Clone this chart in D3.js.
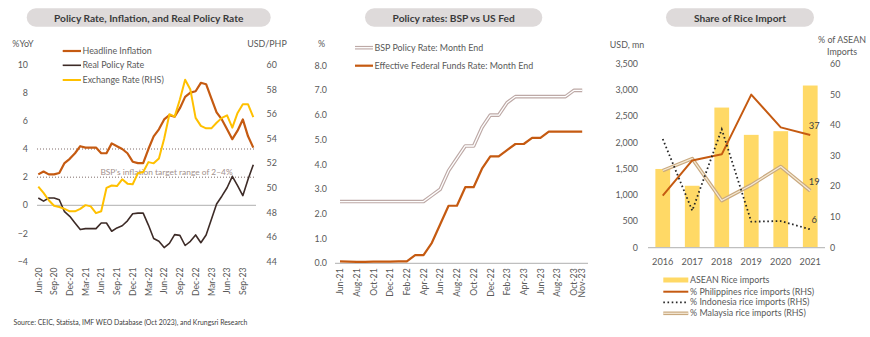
<!DOCTYPE html>
<html><head><meta charset="utf-8">
<script src="https://cdn.jsdelivr.net/npm/d3@7"></script>
<style>
html,body{margin:0;padding:0;background:#fff;}
svg{display:block;font-family:Lato,"Open Sans",sans-serif;}
</style></head><body>
<svg id="chart" width="870" height="337"></svg>
<script>
// ---- Panel 1: policy rate, inflation, real policy rate (Jun-20 .. Nov-23)
const monthsA = ["Jun-20","Jul-20","Aug-20","Sep-20","Oct-20","Nov-20","Dec-20",
  "Jan-21","Feb-21","Mar-21","Apr-21","May-21","Jun-21","Jul-21","Aug-21","Sep-21","Oct-21","Nov-21","Dec-21",
  "Jan-22","Feb-22","Mar-22","Apr-22","May-22","Jun-22","Jul-22","Aug-22","Sep-22","Oct-22","Nov-22","Dec-22",
  "Jan-23","Feb-23","Mar-23","Apr-23","May-23","Jun-23","Jul-23","Aug-23","Sep-23","Oct-23","Nov-23"];
const headlineInflation = [2.2,2.4,2.2,2.2,2.3,3.0,3.3,3.7,4.2,4.1,4.1,4.1,3.7,3.7,4.4,4.2,4.0,3.7,3.1,3.0,3.0,
  4.0,4.9,5.4,6.1,6.4,6.3,6.9,7.7,8.0,8.1,8.7,8.6,7.6,6.6,6.1,5.4,4.7,5.3,6.1,4.9,4.1];
const realPolicyRate = [0.52,0.3,0.52,0.52,0.4,-0.45,-0.78,-1.25,-1.72,-1.65,-1.65,-1.65,-1.25,-1.25,-1.84,-1.6,
  -1.45,-1.1,-0.6,-0.55,-0.55,-1.4,-2.35,-2.55,-3.0,-2.7,-2.08,-2.13,-2.85,-2.55,-2.1,-2.65,-2.1,-1.0,0.1,0.65,
  1.25,2.06,1.4,0.69,1.85,2.89];
const usdPhp = [50.1,49.6,49.0,48.55,48.45,48.3,48.1,48.1,48.3,48.6,48.5,47.95,48.1,50.0,50.2,50.15,50.7,50.35,50.3,
  51.2,51.3,52.1,52.0,52.4,54.0,56.0,55.8,57.2,58.8,58.0,55.7,55.05,54.85,54.85,55.3,55.7,55.9,54.9,56.1,56.8,56.8,55.75];
const tickMonthsA = ["Jun-20","Sep-20","Dec-20","Mar-21","Jun-21","Sep-21","Dec-21","Mar-22","Jun-22","Sep-22",
  "Dec-22","Mar-23","Jun-23","Sep-23"];
const ticksA = [-4,-2,0,2,4,6,8,10];
const ticksARight = [44,46,48,50,52,54,56,58,60];
const targetRange = [2,4];

// ---- Panel 2: BSP vs Fed (Jun-21 .. Nov-23)
const monthsB = ["Jun-21","Jul-21","Aug-21","Sep-21","Oct-21","Nov-21","Dec-21","Jan-22","Feb-22","Mar-22","Apr-22",
  "May-22","Jun-22","Jul-22","Aug-22","Sep-22","Oct-22","Nov-22","Dec-22","Jan-23","Feb-23","Mar-23","Apr-23",
  "May-23","Jun-23","Jul-23","Aug-23","Sep-23","Oct-23","Nov-23"];
const bspPolicyRate = [2.5,2.5,2.5,2.5,2.5,2.5,2.5,2.5,2.5,2.5,2.5,2.75,3.0,3.75,4.25,4.75,4.75,5.5,6.0,6.0,6.5,
  6.75,6.75,6.75,6.75,6.75,6.75,6.75,7.0,7.0];
const fedFundsRate = [0.08,0.07,0.06,0.06,0.07,0.07,0.07,0.08,0.08,0.33,0.33,0.83,1.58,2.33,2.33,3.08,3.08,3.83,
  4.33,4.33,4.58,4.83,4.83,5.08,5.08,5.33,5.33,5.33,5.33,5.33];
const tickMonthsB = ["Jun-21","Aug-21","Oct-21","Dec-21","Feb-22","Apr-22","Jun-22","Aug-22","Oct-22","Dec-22",
  "Feb-23","Apr-23","Jun-23","Aug-23","Oct-23","Nov-23"];
const ticksB = [0,1,2,3,4,5,6,7,8];

// ---- Panel 3: rice imports
const years = ["2016","2017","2018","2019","2020","2021"];
const aseanRiceImports = [1500,1180,2670,2150,2220,3090];
const phShare = [17.0,28.5,30.5,50.0,39.3,36.8];
const idShare = [35.5,12.1,38.7,8.5,8.7,6.0];
const myShare = [25.2,29.1,15.4,20.5,26.5,18.6];
const ticksC = [0,500,1000,1500,2000,2500,3000,3500];
const ticksCRight = [0,10,20,30,40,50,60];

const C = {text:"#595959", title:"#3a3a3a", pill:"#dedada", orange:"#c55a11", dark:"#3d2b27",
  yellow:"#ffc000", grey:"#bfbfbf", bar:"#ffd966"};
const FS = 8.9;

const svg = d3.select("#chart");
svg.append("rect").attr("width",870).attr("height",337).attr("fill","#fff");

function pill(x0, x1, label){
  const g = svg.append("g");
  g.append("rect").attr("x",x0).attr("y",8.3).attr("width",x1-x0).attr("height",18.4)
    .attr("rx",9.2).attr("fill",C.pill);
  g.append("text").attr("x",(x0+x1)/2).attr("y",21.5).attr("text-anchor","middle")
    .attr("font-size",10.2).attr("font-weight",700).attr("fill",C.title).text(label);
}
function txt(x,y,s,anchor,size,fill){
  return svg.append("text").attr("x",x).attr("y",y).attr("text-anchor",anchor||"start")
    .attr("font-size",size||FS).attr("fill",fill||C.text).text(s);
}
function rotLabels(scale, labels, yTop){
  const g = svg.append("g");
  labels.forEach(l=>{
    const x = scale(l);
    g.append("text").attr("transform",`translate(${x+3.2},${yTop}) rotate(-90)`)
      .attr("text-anchor","end").attr("font-size",8.7).attr("fill",C.text).text(l);
  });
}

// ================= Panel 1 =================
pill(26.7, 270.7, "Policy Rate, Inflation, and Real Policy Rate");
const xA = d3.scalePoint().domain(monthsA).range([38.3, 253.3]);
const yA = d3.scaleLinear().domain([-4,10]).range([261.7, 64.5]);
const yAR = d3.scaleLinear().domain([44,60]).range([261.7, 65]);

txt(23, 47, "%YoY", "middle");
txt(267, 47, "USD/PHP", "middle");
ticksA.forEach(t=>txt(28, yA(t)+3, d3.format("d")(t), "end"));
ticksARight.forEach(t=>txt(266.5, yAR(t)+3, t, "start"));

// zero line
svg.append("line").attr("x1",37).attr("x2",256).attr("y1",yA(0)).attr("y2",yA(0))
  .attr("stroke",C.grey).attr("stroke-width",1.2);
// target band edges
targetRange.forEach(v=>{
  svg.append("line").attr("x1",37).attr("x2",256).attr("y1",yA(v)).attr("y2",yA(v))
    .attr("stroke","#7f6b68").attr("stroke-width",1).attr("stroke-dasharray","1,2");
});
txt(166.5, yA(2.4)+3, "BSP\u2019s inflation target range of 2\u20134%", "middle", 8.4, "#a3918d");

const lineA = (vals, y) => d3.line().x((d,i)=>xA(monthsA[i])).y(d=>y(d))(vals);
svg.append("path").attr("d",lineA(realPolicyRate,yA)).attr("fill","none")
  .attr("stroke",C.dark).attr("stroke-width",1.6).attr("stroke-linejoin","round");
svg.append("path").attr("d",lineA(headlineInflation,yA)).attr("fill","none")
  .attr("stroke",C.orange).attr("stroke-width",2.2).attr("stroke-linejoin","round");
svg.append("path").attr("d",lineA(usdPhp,yAR)).attr("fill","none")
  .attr("stroke",C.yellow).attr("stroke-width",2).attr("stroke-linejoin","round");

rotLabels(xA, tickMonthsA, 267.5);

// legend
[["Headline Inflation",C.orange,2.2],["Real Policy Rate",C.dark,1.6],["Exchange Rate (RHS)",C.yellow,2]]
  .forEach((d,i)=>{
    const y = [51,65.3,80][i];
    svg.append("line").attr("x1",62.7).attr("x2",81).attr("y1",y).attr("y2",y)
      .attr("stroke",d[1]).attr("stroke-width",d[2]);
    txt(82.5, y+3, d[0]);
  });

// ================= Panel 2 =================
pill(365, 542.3, "Policy rates: BSP vs US Fed");
const xB = d3.scalePoint().domain(monthsB).range([340, 582.2]);
const yB = d3.scaleLinear().domain([0,8]).range([263.3, 65.7]);
txt(321.5, 47, "%", "middle");
ticksB.forEach(t=>txt(327, yB(t)+3, d3.format(".1f")(t), "end"));
svg.append("line").attr("x1",335).attr("x2",588).attr("y1",yB(0)).attr("y2",yB(0))
  .attr("stroke",C.grey).attr("stroke-width",1.2);
const lineB = vals => d3.line().x((d,i)=>xB(monthsB[i])).y(d=>yB(d))(vals);
// double-stroke line for BSP
svg.append("path").attr("d",lineB(bspPolicyRate)).attr("fill","none")
  .attr("stroke","#bda9a6").attr("stroke-width",3.6).attr("stroke-linejoin","round");
svg.append("path").attr("d",lineB(bspPolicyRate)).attr("fill","none")
  .attr("stroke","#fff").attr("stroke-width",1.3).attr("stroke-linejoin","round");
svg.append("path").attr("d",lineB(fedFundsRate)).attr("fill","none")
  .attr("stroke",C.orange).attr("stroke-width",2.2).attr("stroke-linejoin","round");
rotLabels(xB, tickMonthsB, 268.3);

svg.append("line").attr("x1",355).attr("x2",373).attr("y1",47.7).attr("y2",47.7)
  .attr("stroke","#bda9a6").attr("stroke-width",3.6);
svg.append("line").attr("x1",355).attr("x2",373).attr("y1",47.7).attr("y2",47.7)
  .attr("stroke","#fff").attr("stroke-width",1.3);
txt(374.5, 50.7, "BSP Policy Rate: Month End");
svg.append("line").attr("x1",355).attr("x2",373).attr("y1",65.7).attr("y2",65.7)
  .attr("stroke",C.orange).attr("stroke-width",2.2);
txt(374.5, 68.7, "Effective Federal Funds Rate: Month End");

// ================= Panel 3 =================
pill(666, 814, "Share of Rice Import");
const xC = d3.scaleBand().domain(years).range([648, 825]).paddingInner(0.5).paddingOuter(0.25);
const yC = d3.scaleLinear().domain([0,3500]).range([247.7, 64]);
const yCR = d3.scaleLinear().domain([0,60]).range([247.7, 64]);
txt(627, 48, "USD, mn", "middle");
txt(842, 43, "% of ASEAN", "middle");
txt(842, 55, "Imports", "middle");
ticksC.forEach(t=>txt(638, yC(t)+3, d3.format(",")(t), "end"));
ticksCRight.forEach(t=>txt(830, yCR(t)+3, t, "start"));

svg.append("g").selectAll("rect").data(aseanRiceImports).join("rect")
  .attr("x",(d,i)=>xC(years[i])).attr("width",xC.bandwidth())
  .attr("y",d=>yC(d)).attr("height",d=>yC(0)-yC(d)).attr("fill",C.bar);
svg.append("line").attr("x1",648).attr("x2",825).attr("y1",yC(0)).attr("y2",yC(0))
  .attr("stroke",C.grey).attr("stroke-width",1.2);
years.forEach(y=>txt(xC(y)+xC.bandwidth()/2, 264.5, y, "middle", 9.2));

const lineC = vals => d3.line().x((d,i)=>xC(years[i])+xC.bandwidth()/2).y(d=>yCR(d))(vals);
svg.append("path").attr("d",lineC(myShare)).attr("fill","none")
  .attr("stroke","#c9a97f").attr("stroke-width",3.6).attr("stroke-linejoin","round");
svg.append("path").attr("d",lineC(myShare)).attr("fill","none")
  .attr("stroke","#f5ead7").attr("stroke-width",1.2).attr("stroke-linejoin","round");
svg.append("path").attr("d",lineC(phShare)).attr("fill","none")
  .attr("stroke",C.orange).attr("stroke-width",2).attr("stroke-linejoin","round");
svg.append("path").attr("d",lineC(idShare)).attr("fill","none")
  .attr("stroke","#262626").attr("stroke-width",1.8).attr("stroke-dasharray","1.6,2.6");

// value labels on the latest year
const last = years.length-1;
const lx = xC(years[last])+xC.bandwidth()/2;
[phShare,myShare,idShare].forEach(s=>{
  txt(lx+4, yCR(s[last])-6, d3.format(".0f")(s[last]), "middle", 9.4, "#404040");
});

// legend
const legC = [["ASEAN Rice imports","bar"],["% Philippines rice imports (RHS)","ph"],
  ["% Indonesia rice imports (RHS)","id"],["% Malaysia rice imports (RHS)","my"]];
legC.forEach((d,i)=>{
  const y = [280,291.7,302.3,313.3][i];
  if(d[1]==="bar"){
    svg.append("rect").attr("x",663.3).attr("y",y-2.5).attr("width",25).attr("height",5).attr("fill",C.bar);
  } else if(d[1]==="ph"){
    svg.append("line").attr("x1",663.3).attr("x2",688.3).attr("y1",y).attr("y2",y)
      .attr("stroke",C.orange).attr("stroke-width",2);
  } else if(d[1]==="id"){
    svg.append("line").attr("x1",663.3).attr("x2",688.3).attr("y1",y).attr("y2",y)
      .attr("stroke","#262626").attr("stroke-width",1.8).attr("stroke-dasharray","1.6,2.6");
  } else {
    svg.append("line").attr("x1",663.3).attr("x2",688.3).attr("y1",y).attr("y2",y)
      .attr("stroke","#c9a97f").attr("stroke-width",3.6);
    svg.append("line").attr("x1",663.3).attr("x2",688.3).attr("y1",y).attr("y2",y)
      .attr("stroke","#f5ead7").attr("stroke-width",1.2);
  }
  txt(690, y+3, d[0]);
});

// source
txt(13.5, 325, "Source: CEIC, Statista, IMF WEO Database (Oct 2023), and Krungsri Research", "start", 6.9, "#404040");
</script>
</body></html>
